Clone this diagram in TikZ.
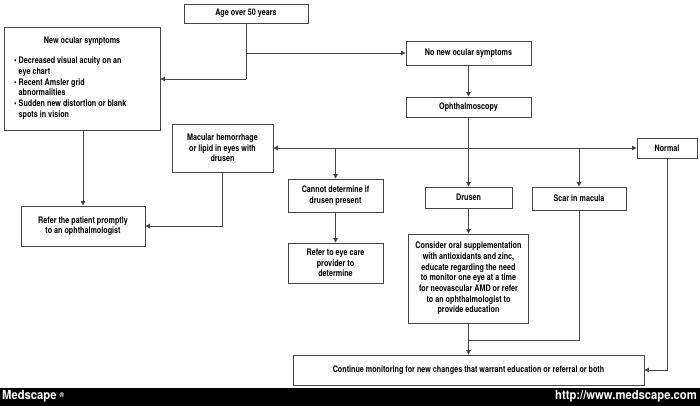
\documentclass[tikz,border=0pt]{standalone}
\usepackage{fontspec}
\setmainfont{TeX Gyre Heros}[FakeStretch=0.8]
\newfontfamily\barfont{TeX Gyre Heros}[FakeStretch=0.9]
\usetikzlibrary{arrows.meta}
\definecolor{linec}{RGB}{70,70,70}
\begin{document}
\begin{tikzpicture}[x=1pt,y=-1pt,
  txt/.style={font=\fontsize{9}{10.7}\selectfont\bfseries, text=black},
  box/.style={txt, draw=linec, line width=0.9pt, fill=white, inner sep=1pt, align=center},
  conn/.style={draw=linec, line width=0.9pt},
  arr/.style={conn, -{Triangle[length=4.5pt,width=4.5pt]}},
  bartext/.style={text=white, font=\barfont\fontsize{12.5}{13}\selectfont\bfseries, inner sep=0pt}
]
\useasboundingbox[fill=white] (0,0) rectangle (700,406);

\node[box, minimum width=124pt, minimum height=19pt] (age) at (246,13.5) {Age over 50 years};
\node[box, minimum width=156pt, minimum height=103pt] (sym) at (82,78.5) {};
\node[txt, inner sep=0pt] (symt) at (82,41) {New ocular symptoms};
\node[txt, inner sep=0pt, anchor=north west, align=left] (syml) at (14,56)
  {\begin{tabular}{@{}l@{\hspace{2pt}}l@{}}
   \textbullet & Decreased visual acuity on an\\
               & eye chart\\
   \textbullet & Recent Amsler grid\\
               & abnormalities\\
   \textbullet & Sudden new distortion or blank\\
               & spots in vision
   \end{tabular}};
\node[box, minimum width=125pt, minimum height=24pt] (nonew) at (468.5,53) {No new ocular symptoms};
\node[box, minimum width=125pt, minimum height=20pt] (oph) at (468.5,107) {Ophthalmoscopy};
\node[box, minimum width=101pt, minimum height=48pt] (mac) at (222.5,148) {Macular hemorrhage\\or lipid in eyes with\\drusen};
\node[box, minimum width=60pt, minimum height=20pt] (normal) at (667,148) {Normal};
\node[box, minimum width=95pt, minimum height=33pt] (cannot) at (335.5,195.5) {Cannot determine if\\drusen present};
\node[box, minimum width=95pt, minimum height=40pt] (eyecare) at (335.5,263) {Refer to eye care\\provider to\\determine};
\node[box, minimum width=87pt, minimum height=21pt] (drusen) at (468.5,197.5) {Drusen};
\node[box, minimum width=94pt, minimum height=23pt] (scar) at (579,198.5) {Scar in macula};
\node[box, minimum width=120pt, minimum height=89pt] (consider) at (468.5,278.5) {Consider oral supplementation\\with antioxidants and zinc,\\educate regarding the need\\to monitor one eye at a time\\for neovascular AMD or refer\\to an ophthalmologist to\\provide education};
\node[box, minimum width=124pt, minimum height=40pt] (refer) at (83,226) {Refer the patient promptly\\to an ophthalmologist};
\node[box, minimum width=351pt, minimum height=30pt] (cont) at (468.5,370) {Continue monitoring for new changes that warrant education or referral or both};

% connectors
\coordinate (a2) at (246,79);
\draw[conn] (age.south) -- (a2);
\draw[arr] (a2) -- (a2 -| sym.east);
\draw[arr] (age.south |- nonew.west) -- (nonew.west);
\draw[arr] (nonew.south) -- (oph.north);
\coordinate (bus) at (oph.south |- mac.east);
\draw[conn] (oph.south) -- (bus);
\draw[arr] (bus) -- (mac.east);
\draw[arr] (bus) -- (normal.west);
\draw[arr] (cannot.north |- bus) -- (cannot.north);
\draw[arr] (bus) -- (drusen.north);
\draw[arr] (scar.north |- bus) -- (scar.north);
\draw[arr] (cannot.south) -- (eyecare.north);
\draw[arr] (drusen.south) -- (consider.north);
\draw[arr] (consider.south) -- (cont.north);
\coordinate (sj) at (468.5,340);
\draw[conn] (scar.south) |- (sj);
\draw[arr] (normal.south) |- (cont.east);
\draw[arr] (sym.south -| refer.north) -- (refer.north);
\draw[arr] (mac.south) |- (refer.east);

% bottom bar
\fill[black] (0,388) rectangle (700,406);
\node[bartext, anchor=west] (ms) at (2,396.5) {Medscape \raisebox{2.5pt}{\fontsize{7}{7}\selectfont ®}};
\node[bartext, anchor=east] (url) at (697,396.5) {http://www.medscape.com};
\end{tikzpicture}
\end{document}
